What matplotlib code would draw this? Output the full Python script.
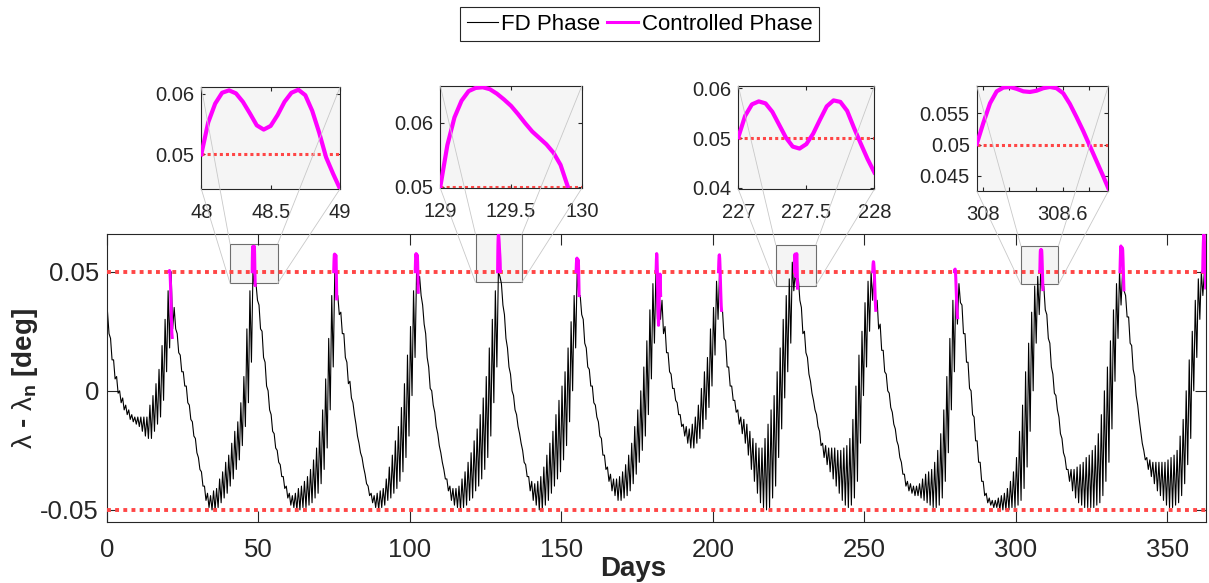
import numpy as np
import matplotlib.pyplot as plt
from matplotlib.patches import Rectangle, ConnectionPatch

plt.rcParams['font.family'] = ['Liberation Sans', 'DejaVu Sans']
plt.rcParams['mathtext.fontset'] = 'custom'
plt.rcParams['mathtext.rm'] = 'Liberation Sans'
plt.rcParams['mathtext.it'] = 'Liberation Sans'
plt.rcParams['mathtext.bf'] = 'Liberation Sans:bold'

# ---------------- data (milli-degrees) ----------------
# free drift phase: daily high / low of lambda - lambda_n, day 0 .. 362
fd_high = [
    33, 22, 13, 6, 0, -3, -6, -8, -10, -11, -11, -11, -11, -11, -6, -2, 3, 9, 19, 30, 42,
    50,
    35, 24, 15, 8, 2, -6, -13, -20, -28, -34, -40, -43, -44, -42, -41, -37, -34, -30, -27, -22,
    -17, -13, -5, 6, 26, 42,
    50,
    45, 36, 25, 12, 0, -10, -18, -25, -31, -36, -40, -43, -44, -43, -41, -40, -38, -36, -33, -29,
    -24, -17, -8, 5, 22, 40,
    50,
    40, 33, 24, 12, 4, -5, -14, -22, -28, -35, -40, -43, -44, -43, -42, -41, -37, -32, -27, -21,
    -15, -7, 3, 15, 27, 42,
    50,
    48, 36, 24, 10, 0, -9, -18, -26, -33, -37, -40, -41, -41, -40, -37, -34, -30, -26, -21, -16,
    -10, -3, 6, 18, 30, 42,
    50,
    45, 32, 18, 7, -2, -10, -18, -25, -31, -36, -38, -39, -38, -36, -32, -27, -22, -17, -10, -4,
    2, 8, 18, 29, 40,
    50,
    40, 30, 18, 9, 2, -6, -13, -20, -27, -32, -35, -37, -37, -36, -34, -31, -27, -22, -15, -8,
    0, 10, 21, 34, 45,
    50, 42,
    38, 27, 16, 7, 1, -5, -10, -14, -15, -16, -14, -11, -6, 1, 8, 14, 26, 35, 46,
    50,
    33, 21, 10, 2, -4, -8, -11, -12, -14, -17, -20, -22, -24, -24, -20, -14, -8, -2, 8, 18,
    30, 40, 47, 54,
    50,
    47, 35, 25, 14, 4, -4, -10, -17, -22, -23, -24, -24, -24, -25, -25, -24, -23, -20, -12, 2,
    15, 25, 37, 46, 50,
    50,
    38, 28, 17, 7, -1, -9, -16, -23, -30, -35, -38, -39, -40, -40, -39, -37, -35, -34, -33, -30,
    -25, -18, -8, 6, 22, 38, 48,
    45, 36, 24, 12, 0, -11, -21, -30, -38, -43, -45, -46, -46, -45, -44, -43, -41, -38, -34, -28,
    -17, -6, 8, 20, 33, 44, 48,
    50,
    44, 32, 20, 7, -2, -11, -20, -28, -33, -33, -33, -32, -31, -30, -28, -27, -25, -23, -18, -10,
    0, 10, 21, 34, 45, 50,
    50,
    40, 31, 19, 6, -6, -17, -25, -28, -29, -30, -30, -30, -30, -30, -29, -28, -27, -25, -19, -12,
    0, 13, 25, 38, 47, 50,
    50,
]
fd_low = [
    24, 13, 5, -1, -5, -8, -10, -12, -13, -14, -15, -17, -19, -20, -20, -17, -14, -11, -4, 8, 18,
    26,
    26, 16, 8, 2, -5, -12, -19, -26, -33, -40, -46, -49, -50, -50, -49, -47, -45, -43, -40, -37,
    -33, -29, -23, -15, -5, 12,
    44,
    38, 26, 14, 2, -8, -17, -24, -30, -36, -41, -45, -48, -49, -50, -50, -49, -49, -48, -47, -45,
    -43, -39, -33, -24, -8, 10,
    39,
    32, 24, 14, 3, -3, -10, -19, -26, -32, -39, -44, -47, -49, -50, -49, -48, -46, -45, -43, -41,
    -38, -34, -28, -19, -2, 14,
    41,
    40, 28, 14, 1, -6, -15, -23, -30, -37, -42, -46, -48, -49, -50, -49, -48, -46, -45, -42, -40,
    -37, -33, -28, -19, -5, 10,
    48,
    36, 22, 10, 0, -8, -15, -22, -30, -36, -42, -46, -48, -50, -50, -48, -46, -43, -40, -37, -34,
    -29, -23, -13, 0, 18,
    40,
    32, 20, 10, 2, -5, -11, -19, -27, -33, -38, -42, -44, -46, -46, -45, -44, -42, -39, -35, -30,
    -25, -19, -10, 5, 20,
    30, 30,
    24, 16, 8, 1, -4, -10, -15, -19, -22, -24, -24, -22, -20, -16, -12, -7, 2, 15, 30,
    34,
    22, 10, 2, -4, -9, -14, -18, -22, -27, -33, -38, -43, -47, -49, -50, -49, -45, -40, -28, -16,
    -3, 8, 20, 42,
    43,
    38, 24, 16, 7, -1, -8, -15, -23, -28, -31, -34, -37, -40, -43, -46, -48, -49, -48, -45, -38,
    -22, -2, 10, 25, 38,
    34,
    26, 17, 8, 0, -7, -14, -21, -28, -35, -40, -42, -43, -44, -44, -45, -46, -47, -48, -49, -49,
    -48, -45, -38, -26, -8, 8, 28,
    37, 24, 12, 1, -10, -21, -30, -38, -44, -47, -48, -49, -49, -50, -50, -50, -50, -49, -49, -48,
    -46, -41, -32, -17, 0, 20, 32,
    43,
    34, 22, 10, -1, -8, -18, -26, -33, -38, -42, -45, -47, -48, -49, -49, -49, -49, -48, -47, -44,
    -38, -30, -16, 4, 22, 36,
    42,
    31, 20, 9, -2, -12, -22, -29, -33, -36, -39, -42, -44, -46, -48, -49, -49, -48, -47, -44, -39,
    -31, -20, 0, 14, 30, 40,
    43,
]

# controlled phases shown only in the main plot (0.1 day sampling)
ctrl_start = [20.6, 74.9, 101.8, 154.9, 181.3, 201.9, 252.8, 279.8, 334.4, 361.7]
ctrl_vals = [
    [50, 50.5, 50.3, 49, 46, 42, 37, 32, 27, 24, 22.4],
    [50, 54.5, 57.2, 57.4, 55.5, 54, 55.5, 57, 55, 47, 38.6],
    [50, 54.5, 57.3, 57.6, 56, 54.5, 55.5, 57, 54, 48, 41.4],
    [50, 53.5, 55.5, 55.7, 54, 52.5, 53.5, 55, 52.5, 46.5, 40],
    [50, 55, 57.6, 56, 51, 44, 37, 31, 27.5, 30, 36, 42, 47, 49, 45, 40],
    [50, 54, 56.8, 57.1, 55.5, 52, 47.5, 43, 39, 35.5, 33.8],
    [50, 53, 54.2, 54, 52.5, 50.5, 47, 43, 39, 36, 33.8],
    [50, 51, 51.1, 50, 47.5, 44, 40.5, 37, 34, 32, 30.7],
    [50, 55, 59, 60.8, 60.3, 58.5, 58, 59, 60, 59, 55.5, 51, 46.5, 42.4],
    [50, 57, 62, 65, 65.7, 64.5, 62, 58.5, 54, 48.5, 43.2],
]

# zoomed controlled phases (0.05 day sampling)
zoom_start = [48.0, 129.0, 227.0, 307.955]
zoom_vals = [
    [50.0, 55.3, 58.4, 60.2, 60.6, 60.1, 58.7, 56.8, 54.8, 54.1, 54.7, 56.5, 58.7, 60.2, 60.7,
     59.8, 57.2, 53.6, 49.5, 46.8, 44.3],
    [50.0, 56.5, 60.8, 63.4, 64.9, 65.4, 65.5, 65.2, 64.5, 63.6, 62.6, 61.3, 59.9, 58.6, 57.6,
     56.6, 55.3, 53.4, 50.1],
    [50.2, 54.5, 56.8, 57.4, 57.0, 55.3, 52.7, 50.1, 48.3, 47.9, 48.8, 50.9, 53.7, 56.4, 57.6,
     57.3, 55.5, 52.1, 48.9, 45.8, 43.1],
    [50.1, 53.5, 56.6, 58.5, 59.1, 59.2, 58.9, 58.5, 58.4, 58.6, 59.0, 59.2, 59.0, 58.2, 56.5,
     54.4, 52.2, 49.8, 47.4, 45.0, 42.5],
]
zoom_xticks = [[48, 48.5, 49], [129, 129.5, 130], [227, 227.5, 228],
               [308, 308.2, 308.4, 308.6, 308.8]]
zoom_xlabels = [['48', '48.5', '49'], ['129', '129.5', '130'], ['227', '227.5', '228'],
                ['308', '', '', '308.6', '']]
zoom_yticks = [[0.05, 0.06], [0.05, 0.06], [0.04, 0.05, 0.06], [0.045, 0.05, 0.055]]
zoom_ylabels = [['0.05', '0.06'], ['0.05', '0.06'], ['0.04', '0.05', '0.06'],
                ['0.045', '0.05', '0.055']]
bound = 0.05

# ---------------- layout ----------------
zoom_rects = [[0.1665, 0.6758, 0.1147, 0.1744],
              [0.3642, 0.6770, 0.1170, 0.1755],
              [0.6107, 0.6753, 0.1125, 0.1772],
              [0.8079, 0.6724, 0.1089, 0.1806]]
zoom_xlims = [(48, 49), (129, 130), (227, 228), (307.955, 308.945)]
zoom_ylims = [(0.04425, 0.0611), (0.04975, 0.0657), (0.0397, 0.0605), (0.0426, 0.0594)]
# marker boxes in the main axes (days, deg)
boxes = [(40.7, 56.4, 0.04513, 0.06162),
         (121.7, 137.0, 0.04555, 0.0657),
         (220.8, 234.0, 0.04412, 0.0612),
         (301.7, 314.1, 0.04471, 0.06078)]

magenta = '#ff00ff'
red = '#ff4646'
dark = '#262626'

fig = plt.figure(figsize=(12.09, 5.83), dpi=100)
ax = fig.add_axes([0.0883, 0.1041, 0.9090, 0.4940])

days = np.arange(len(fd_high))
t = np.column_stack([days + 0.25, days + 0.75]).ravel()
v = np.column_stack([fd_high, fd_low]).ravel() / 1000.0
fd_line, = ax.plot(t, v, color='k', lw=0.8, zorder=2)

ax.axhline(bound, color=red, lw=2.8, ls=(0, (1, 1.1)), zorder=3)
ax.axhline(-bound, color=red, lw=2.8, ls=(0, (1, 1.1)), zorder=3)

for s, vals in zip(ctrl_start, ctrl_vals):
    tt = s + 0.1 * np.arange(len(vals))
    ctrl_line, = ax.plot(tt, np.array(vals) / 1000.0, color=magenta, lw=2.2, zorder=4)
for s, vals in zip(zoom_start, zoom_vals):
    tt = s + 0.05 * np.arange(len(vals))
    ax.plot(tt, np.array(vals) / 1000.0, color=magenta, lw=2.2, zorder=4)

for x0, x1, y0, y1 in boxes:
    ax.add_patch(Rectangle((x0, y0), x1 - x0, y1 - y0, facecolor='#f4f4f4',
                           edgecolor='#6e6e6e', lw=0.8, zorder=1.5))

ax.set_xlim(0, 362.7)
ax.set_ylim(-0.0552, 0.0657)
ax.set_xticks(np.arange(0, 351, 50))
ax.set_yticks([-0.05, 0, 0.05])
ax.set_yticklabels(['-0.05', '0', '0.05'])
ax.tick_params(direction='in', length=8, width=0.8, labelsize=18.5, colors=dark,
               top=True, right=True)
ax.tick_params(axis='x', pad=11.5)
ax.tick_params(axis='y', pad=5.5)
for sp in ax.spines.values():
    sp.set_color(dark)
    sp.set_linewidth(0.8)

ax.set_xlabel('Days', fontsize=20, fontweight='bold', color=dark, va='top')
ax.xaxis.set_label_coords(0.479, -0.117)
ax.set_ylabel(r'$\lambda$ - $\lambda_{\mathbf{n}}$ [deg]', fontsize=20,
              fontweight='bold', color=dark)
ax.yaxis.set_label_coords(-0.061, 0.5)

# zoom insets
for i in range(4):
    ins = fig.add_axes(zoom_rects[i])
    ins.set_facecolor('#f5f5f5')
    tt = zoom_start[i] + 0.05 * np.arange(len(zoom_vals[i]))
    ins.axhline(bound, color=red, lw=2.2, ls=(0, (1, 1)), zorder=2)
    ins.plot(tt, np.array(zoom_vals[i]) / 1000.0, color=magenta, lw=3, zorder=3)
    ins.set_xlim(zoom_xlims[i])
    ins.set_ylim(zoom_ylims[i])
    ins.set_xticks(zoom_xticks[i])
    ins.set_xticklabels(zoom_xlabels[i])
    ins.set_yticks(zoom_yticks[i])
    ins.set_yticklabels(zoom_ylabels[i])
    ins.tick_params(direction='in', length=3, width=0.8, labelsize=14.5, colors=dark,
                    top=True, right=True)
    ins.tick_params(axis='x', pad=10)
    ins.tick_params(axis='y', pad=5)
    for sp in ins.spines.values():
        sp.set_color(dark)
        sp.set_linewidth(0.8)

    x0, x1, y0, y1 = boxes[i]
    for fx, fy in [(0, 0), (0, 1), (1, 0), (1, 1)]:
        con = ConnectionPatch(xyA=(fx, fy), coordsA=ins.transAxes,
                              xyB=(x0 + fx * (x1 - x0), y0 + fy * (y1 - y0)),
                              coordsB=ax.transData, color='#c8c8c8', lw=0.6, zorder=5)
        fig.add_artist(con)

leg = fig.legend([fd_line, ctrl_line], ['FD Phase', 'Controlled Phase'],
                 loc='upper center', bbox_to_anchor=(0.529, 0.988), ncol=2,
                 fontsize=16, frameon=True, fancybox=False, framealpha=1,
                 edgecolor=dark, handlelength=1.4, handletextpad=0.15,
                 columnspacing=0.3, borderpad=0.3, borderaxespad=0)
leg.get_frame().set_linewidth(0.8)

fig.savefig('out.png', dpi=100)
